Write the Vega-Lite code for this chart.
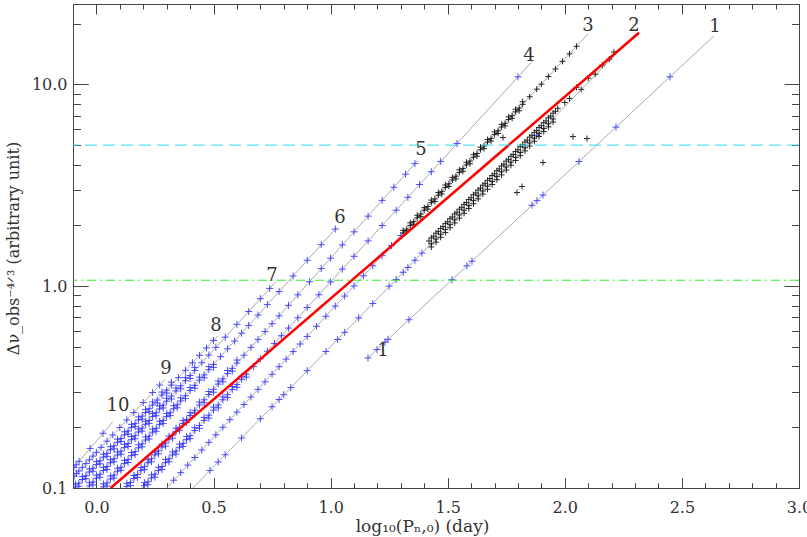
{
"$schema": "https://vega.github.io/schema/vega-lite/v6.json",
"width": 726, "height": 484,
"autosize": "none",
"padding": {"left": 73, "top": 4, "right": 8, "bottom": 49},
"background": "white",
"config": {"view": {"stroke": "#444", "strokeWidth": 1}, "font": "DejaVu Serif"},
"resolve": {"axis": {"x": "independent", "y": "independent"}},
"datasets": {
"curves": [
{"n":1,"x":1.1596,"y":0.441},{"n":1,"x":2.637,"y":17.38},
{"n":2,"x":0.4118,"y":0.1},{"n":2,"x":2.308,"y":18.05},
{"n":3,"x":0.2992,"y":0.1},{"n":3,"x":2.099,"y":17.78},
{"n":4,"x":0.1961,"y":0.1},{"n":4,"x":1.86,"y":12.97},
{"n":5,"x":0.1238,"y":0.1},{"n":5,"x":1.373,"y":4.207},
{"n":6,"x":0.0256,"y":0.1},{"n":6,"x":1.027,"y":1.958},
{"n":7,"x":-0.0386,"y":0.1},{"n":7,"x":0.767,"y":1.054},
{"n":8,"x":-0.0943,"y":0.1},{"n":8,"x":0.519,"y":0.568},
{"n":9,"x":-0.1,"y":0.113},{"n":9,"x":0.293,"y":0.3454},
{"n":10,"x":-0.1,"y":0.125},{"n":10,"x":0.07,"y":0.2128}
],
"labels": [
{"label":"10","x":0.092,"y":0.2538},{"label":"9","x":0.297,"y":0.387},{"label":"8","x":0.511,"y":0.632},
{"label":"7","x":0.75,"y":1.117},{"label":"6","x":1.04,"y":2.164},{"label":"5","x":1.386,"y":4.75},
{"label":"4","x":1.847,"y":13.87},{"label":"3","x":2.099,"y":19.53},{"label":"2","x":2.295,"y":19.53},
{"label":"1","x":2.641,"y":19.31},{"label":"1","x":1.224,"y":0.475}
],
"fit": [{"x":0.061,"y":0.1},{"x":2.317,"y":18.0}],
"levels_cyan": [{"y":5.0}],
"levels_green": [{"y":1.07}],
"blue": [
{"n":10,"x":-0.096,"y":0.1265},{"n":10,"x":-0.087,"y":0.1302},{"n":10,"x":-0.074,"y":0.1356},{"n":10,"x":-0.027,"y":0.1571},{"n":10,"x":0.028,"y":0.1866},
{"n":9,"x":-0.095,"y":0.1146},{"n":9,"x":-0.085,"y":0.1179},{"n":9,"x":-0.075,"y":0.1213},{"n":9,"x":-0.06,"y":0.1266},{"n":9,"x":-0.045,"y":0.1321},{"n":9,"x":-0.03,"y":0.1379},{"n":9,"x":-0.015,"y":0.1439},{"n":9,"x":0.0,"y":0.1502},{"n":9,"x":0.02,"y":0.159},{"n":9,"x":0.045,"y":0.1707},{"n":9,"x":0.07,"y":0.1832},{"n":9,"x":0.1,"y":0.1995},{"n":9,"x":0.13,"y":0.2173},{"n":9,"x":0.16,"y":0.2366},{"n":9,"x":0.2,"y":0.2652},{"n":9,"x":0.24,"y":0.2972},{"n":9,"x":0.27,"y":0.3235},
{"n":8,"x":-0.09,"y":0.1012},{"n":8,"x":-0.075,"y":0.1056},{"n":8,"x":-0.06,"y":0.1102},{"n":8,"x":-0.045,"y":0.115},{"n":8,"x":-0.03,"y":0.12},{"n":8,"x":-0.015,"y":0.1252},{"n":8,"x":0.0,"y":0.1306},{"n":8,"x":0.015,"y":0.1363},{"n":8,"x":0.03,"y":0.1422},{"n":8,"x":0.045,"y":0.1484},{"n":8,"x":0.06,"y":0.1548},{"n":8,"x":0.075,"y":0.1616},{"n":8,"x":0.09,"y":0.1686},{"n":8,"x":0.105,"y":0.1759},{"n":8,"x":0.12,"y":0.1835},{"n":8,"x":0.135,"y":0.1914},{"n":8,"x":0.15,"y":0.1997},{"n":8,"x":0.165,"y":0.2084},{"n":8,"x":0.18,"y":0.2175},{"n":8,"x":0.195,"y":0.2269},{"n":8,"x":0.21,"y":0.2367},{"n":8,"x":0.225,"y":0.247},{"n":8,"x":0.24,"y":0.2578},{"n":8,"x":0.26,"y":0.2728},{"n":8,"x":0.28,"y":0.2887},{"n":8,"x":0.3,"y":0.3055},{"n":8,"x":0.32,"y":0.3233},{"n":8,"x":0.35,"y":0.352},{"n":8,"x":0.38,"y":0.3832},{"n":8,"x":0.41,"y":0.4172},{"n":8,"x":0.44,"y":0.4542},{"n":8,"x":0.47,"y":0.4944},{"n":8,"x":0.5,"y":0.5383},
{"n":8,"x":-0.09,"y":0.1047},{"n":8,"x":-0.075,"y":0.1021},{"n":8,"x":-0.06,"y":0.1141},{"n":8,"x":-0.045,"y":0.1112},{"n":8,"x":-0.03,"y":0.1242},{"n":8,"x":-0.015,"y":0.1211},{"n":8,"x":0.0,"y":0.1352},{"n":8,"x":0.015,"y":0.1318},{"n":8,"x":0.03,"y":0.1472},{"n":8,"x":0.045,"y":0.1435},{"n":8,"x":0.06,"y":0.1602},{"n":8,"x":0.075,"y":0.1563},{"n":8,"x":0.09,"y":0.1745},{"n":8,"x":0.105,"y":0.1701},{"n":8,"x":0.12,"y":0.1899},{"n":8,"x":0.135,"y":0.1851},{"n":8,"x":0.15,"y":0.2067},{"n":8,"x":0.165,"y":0.2015},{"n":8,"x":0.18,"y":0.2251},{"n":8,"x":0.195,"y":0.2194},{"n":8,"x":0.21,"y":0.245},{"n":8,"x":0.225,"y":0.2388},{"n":8,"x":0.24,"y":0.2668},{"n":8,"x":0.26,"y":0.2638},{"n":8,"x":0.28,"y":0.2988},{"n":8,"x":0.3,"y":0.2954},{"n":8,"x":0.32,"y":0.3346},
{"n":7,"x":-0.03,"y":0.1025},{"n":7,"x":-0.015,"y":0.1071},{"n":7,"x":0.0,"y":0.1119},{"n":7,"x":0.015,"y":0.117},{"n":7,"x":0.03,"y":0.1222},{"n":7,"x":0.045,"y":0.1277},{"n":7,"x":0.06,"y":0.1334},{"n":7,"x":0.075,"y":0.1394},{"n":7,"x":0.09,"y":0.1457},{"n":7,"x":0.105,"y":0.1522},{"n":7,"x":0.12,"y":0.159},{"n":7,"x":0.135,"y":0.1661},{"n":7,"x":0.15,"y":0.1736},{"n":7,"x":0.165,"y":0.1814},{"n":7,"x":0.18,"y":0.1895},{"n":7,"x":0.195,"y":0.198},{"n":7,"x":0.21,"y":0.2069},{"n":7,"x":0.225,"y":0.2161},{"n":7,"x":0.24,"y":0.2258},{"n":7,"x":0.255,"y":0.2359},{"n":7,"x":0.27,"y":0.2465},{"n":7,"x":0.285,"y":0.2576},{"n":7,"x":0.3,"y":0.2692},{"n":7,"x":0.32,"y":0.2854},{"n":7,"x":0.34,"y":0.3026},{"n":7,"x":0.36,"y":0.3208},{"n":7,"x":0.38,"y":0.3401},{"n":7,"x":0.4,"y":0.3606},{"n":7,"x":0.42,"y":0.3823},{"n":7,"x":0.45,"y":0.4174},{"n":7,"x":0.48,"y":0.4557},{"n":7,"x":0.51,"y":0.4974},{"n":7,"x":0.55,"y":0.5592},{"n":7,"x":0.6,"y":0.6471},{"n":7,"x":0.65,"y":0.7489},{"n":7,"x":0.7,"y":0.867},{"n":7,"x":0.74,"y":0.9745},
{"n":7,"x":-0.03,"y":0.1061},{"n":7,"x":-0.015,"y":0.1036},{"n":7,"x":0.0,"y":0.1158},{"n":7,"x":0.015,"y":0.1131},{"n":7,"x":0.03,"y":0.1265},{"n":7,"x":0.045,"y":0.1235},{"n":7,"x":0.06,"y":0.1381},{"n":7,"x":0.075,"y":0.1348},{"n":7,"x":0.09,"y":0.1508},{"n":7,"x":0.105,"y":0.1472},{"n":7,"x":0.12,"y":0.1646},{"n":7,"x":0.135,"y":0.1606},{"n":7,"x":0.15,"y":0.1797},{"n":7,"x":0.165,"y":0.1754},{"n":7,"x":0.18,"y":0.1961},{"n":7,"x":0.195,"y":0.1915},{"n":7,"x":0.21,"y":0.2141},{"n":7,"x":0.225,"y":0.209},{"n":7,"x":0.24,"y":0.2337},{"n":7,"x":0.255,"y":0.2281},{"n":7,"x":0.27,"y":0.2551},{"n":7,"x":0.285,"y":0.2491},{"n":7,"x":0.3,"y":0.2786},{"n":7,"x":0.32,"y":0.276},{"n":7,"x":0.34,"y":0.3132},{"n":7,"x":0.36,"y":0.3102},{"n":7,"x":0.38,"y":0.352},{"n":7,"x":0.4,"y":0.3487},{"n":7,"x":0.42,"y":0.3957},
{"n":6,"x":0.03,"y":0.1013},{"n":6,"x":0.045,"y":0.1059},{"n":6,"x":0.06,"y":0.1108},{"n":6,"x":0.075,"y":0.1158},{"n":6,"x":0.09,"y":0.1211},{"n":6,"x":0.105,"y":0.1266},{"n":6,"x":0.12,"y":0.1324},{"n":6,"x":0.135,"y":0.1384},{"n":6,"x":0.15,"y":0.1447},{"n":6,"x":0.165,"y":0.1513},{"n":6,"x":0.18,"y":0.1582},{"n":6,"x":0.195,"y":0.1654},{"n":6,"x":0.21,"y":0.1729},{"n":6,"x":0.225,"y":0.1808},{"n":6,"x":0.24,"y":0.1891},{"n":6,"x":0.255,"y":0.1976},{"n":6,"x":0.27,"y":0.2067},{"n":6,"x":0.285,"y":0.2161},{"n":6,"x":0.3,"y":0.2259},{"n":6,"x":0.315,"y":0.2362},{"n":6,"x":0.33,"y":0.247},{"n":6,"x":0.345,"y":0.2582},{"n":6,"x":0.36,"y":0.2701},{"n":6,"x":0.38,"y":0.2866},{"n":6,"x":0.4,"y":0.3041},{"n":6,"x":0.42,"y":0.3227},{"n":6,"x":0.44,"y":0.3424},{"n":6,"x":0.46,"y":0.3634},{"n":6,"x":0.48,"y":0.3857},{"n":6,"x":0.5,"y":0.4093},{"n":6,"x":0.53,"y":0.4474},{"n":6,"x":0.56,"y":0.4891},{"n":6,"x":0.59,"y":0.5347},{"n":6,"x":0.62,"y":0.5845},{"n":6,"x":0.65,"y":0.639},{"n":6,"x":0.69,"y":0.7196},{"n":6,"x":0.73,"y":0.8104},{"n":6,"x":0.78,"y":0.9402},{"n":6,"x":0.84,"y":1.1235},{"n":6,"x":0.9,"y":1.343},{"n":6,"x":0.96,"y":1.605},{"n":6,"x":1.02,"y":1.918},
{"n":6,"x":0.03,"y":0.1048},{"n":6,"x":0.045,"y":0.1024},{"n":6,"x":0.06,"y":0.1147},{"n":6,"x":0.075,"y":0.112},{"n":6,"x":0.09,"y":0.1253},{"n":6,"x":0.105,"y":0.1224},{"n":6,"x":0.12,"y":0.137},{"n":6,"x":0.135,"y":0.1338},{"n":6,"x":0.15,"y":0.1498},{"n":6,"x":0.165,"y":0.1463},{"n":6,"x":0.18,"y":0.1637},{"n":6,"x":0.195,"y":0.1599},{"n":6,"x":0.21,"y":0.179},{"n":6,"x":0.225,"y":0.1748},{"n":6,"x":0.24,"y":0.1957},{"n":6,"x":0.255,"y":0.1911},{"n":6,"x":0.27,"y":0.2139},{"n":6,"x":0.285,"y":0.209},{"n":6,"x":0.3,"y":0.2338},{"n":6,"x":0.315,"y":0.2284},{"n":6,"x":0.33,"y":0.2556},{"n":6,"x":0.345,"y":0.2497},{"n":6,"x":0.36,"y":0.2796},{"n":6,"x":0.38,"y":0.2771},{"n":6,"x":0.4,"y":0.3147},{"n":6,"x":0.42,"y":0.3121},{"n":6,"x":0.44,"y":0.3544},{"n":6,"x":0.46,"y":0.3514},{"n":6,"x":0.48,"y":0.3992},{"n":6,"x":0.5,"y":0.3958},
{"n":5,"x":0.13,"y":0.1019},{"n":5,"x":0.145,"y":0.1065},{"n":5,"x":0.16,"y":0.1114},{"n":5,"x":0.175,"y":0.1166},{"n":5,"x":0.19,"y":0.1219},{"n":5,"x":0.205,"y":0.1275},{"n":5,"x":0.22,"y":0.1334},{"n":5,"x":0.235,"y":0.1395},{"n":5,"x":0.25,"y":0.1459},{"n":5,"x":0.265,"y":0.1526},{"n":5,"x":0.28,"y":0.1596},{"n":5,"x":0.295,"y":0.1669},{"n":5,"x":0.31,"y":0.1746},{"n":5,"x":0.325,"y":0.1826},{"n":5,"x":0.34,"y":0.191},{"n":5,"x":0.355,"y":0.1997},{"n":5,"x":0.37,"y":0.2089},{"n":5,"x":0.385,"y":0.2185},{"n":5,"x":0.4,"y":0.2286},{"n":5,"x":0.42,"y":0.2427},{"n":5,"x":0.44,"y":0.2576},{"n":5,"x":0.46,"y":0.2735},{"n":5,"x":0.48,"y":0.2904},{"n":5,"x":0.5,"y":0.3083},{"n":5,"x":0.52,"y":0.3273},{"n":5,"x":0.54,"y":0.3475},{"n":5,"x":0.56,"y":0.369},{"n":5,"x":0.58,"y":0.3917},{"n":5,"x":0.6,"y":0.4159},{"n":5,"x":0.63,"y":0.455},{"n":5,"x":0.66,"y":0.4977},{"n":5,"x":0.69,"y":0.5445},{"n":5,"x":0.72,"y":0.5957},{"n":5,"x":0.75,"y":0.6516},{"n":5,"x":0.78,"y":0.7129},{"n":5,"x":0.82,"y":0.8035},{"n":5,"x":0.86,"y":0.9057},{"n":5,"x":0.91,"y":1.052},{"n":5,"x":0.96,"y":1.222},{"n":5,"x":1.0,"y":1.377},{"n":5,"x":1.05,"y":1.6},{"n":5,"x":1.1,"y":1.858},{"n":5,"x":1.16,"y":2.223},{"n":5,"x":1.22,"y":2.661},{"n":5,"x":1.27,"y":3.09},{"n":5,"x":1.32,"y":3.589},{"n":5,"x":1.36,"y":4.046},
{"n":5,"x":0.13,"y":0.1055},{"n":5,"x":0.145,"y":0.103},{"n":5,"x":0.16,"y":0.1153},{"n":5,"x":0.175,"y":0.1128},{"n":5,"x":0.19,"y":0.1262},{"n":5,"x":0.205,"y":0.1233},{"n":5,"x":0.22,"y":0.1381},{"n":5,"x":0.235,"y":0.1349},{"n":5,"x":0.25,"y":0.151},{"n":5,"x":0.265,"y":0.1476},{"n":5,"x":0.28,"y":0.1652},{"n":5,"x":0.295,"y":0.1614},{"n":5,"x":0.31,"y":0.1807},{"n":5,"x":0.325,"y":0.1766},{"n":5,"x":0.34,"y":0.1977},{"n":5,"x":0.355,"y":0.1931},{"n":5,"x":0.37,"y":0.2162},{"n":5,"x":0.385,"y":0.2113},{"n":5,"x":0.4,"y":0.2366},{"n":5,"x":0.42,"y":0.2347},{"n":5,"x":0.44,"y":0.2666},{"n":5,"x":0.46,"y":0.2645},{"n":5,"x":0.48,"y":0.3006},{"n":5,"x":0.5,"y":0.2981},{"n":5,"x":0.52,"y":0.3388},{"n":5,"x":0.54,"y":0.336},{"n":5,"x":0.56,"y":0.3819},{"n":5,"x":0.58,"y":0.3788},{"n":5,"x":0.6,"y":0.4305},
{"n":4,"x":0.205,"y":0.1027},{"n":4,"x":0.22,"y":0.1073},{"n":4,"x":0.235,"y":0.1121},{"n":4,"x":0.25,"y":0.1171},{"n":4,"x":0.265,"y":0.1223},{"n":4,"x":0.28,"y":0.1278},{"n":4,"x":0.295,"y":0.1335},{"n":4,"x":0.31,"y":0.1395},{"n":4,"x":0.325,"y":0.1458},{"n":4,"x":0.34,"y":0.1523},{"n":4,"x":0.355,"y":0.1591},{"n":4,"x":0.37,"y":0.1663},{"n":4,"x":0.385,"y":0.1737},{"n":4,"x":0.4,"y":0.1816},{"n":4,"x":0.42,"y":0.1924},{"n":4,"x":0.44,"y":0.2041},{"n":4,"x":0.46,"y":0.2163},{"n":4,"x":0.48,"y":0.2294},{"n":4,"x":0.5,"y":0.2432},{"n":4,"x":0.52,"y":0.2579},{"n":4,"x":0.54,"y":0.2734},{"n":4,"x":0.56,"y":0.2899},{"n":4,"x":0.58,"y":0.3074},{"n":4,"x":0.6,"y":0.3258},{"n":4,"x":0.62,"y":0.3455},{"n":4,"x":0.64,"y":0.3663},{"n":4,"x":0.67,"y":0.3999},{"n":4,"x":0.7,"y":0.4365},{"n":4,"x":0.73,"y":0.4765},{"n":4,"x":0.76,"y":0.5202},{"n":4,"x":0.79,"y":0.568},{"n":4,"x":0.82,"y":0.62},{"n":4,"x":0.86,"y":0.6969},{"n":4,"x":0.9,"y":0.7834},{"n":4,"x":0.95,"y":0.9068},{"n":4,"x":1.0,"y":1.05},{"n":4,"x":1.05,"y":1.215},{"n":4,"x":1.1,"y":1.406},{"n":4,"x":1.16,"y":1.676},{"n":4,"x":1.22,"y":1.997},{"n":4,"x":1.28,"y":2.38},{"n":4,"x":1.33,"y":2.755},{"n":4,"x":1.38,"y":3.188},{"n":4,"x":1.43,"y":3.691},{"n":4,"x":1.47,"y":4.149},{"n":4,"x":1.54,"y":5.09},{"n":4,"x":1.8,"y":10.89},
{"n":4,"x":0.205,"y":0.1063},{"n":4,"x":0.22,"y":0.1038},{"n":4,"x":0.235,"y":0.116},{"n":4,"x":0.25,"y":0.1132},{"n":4,"x":0.265,"y":0.1266},{"n":4,"x":0.28,"y":0.1236},{"n":4,"x":0.295,"y":0.1382},{"n":4,"x":0.31,"y":0.1349},{"n":4,"x":0.325,"y":0.1509},{"n":4,"x":0.34,"y":0.1473},{"n":4,"x":0.355,"y":0.1647},{"n":4,"x":0.37,"y":0.1608},{"n":4,"x":0.385,"y":0.1798},{"n":4,"x":0.4,"y":0.1756},{"n":4,"x":0.42,"y":0.1991},{"n":4,"x":0.44,"y":0.1974},{"n":4,"x":0.46,"y":0.2239},{"n":4,"x":0.48,"y":0.2218},{"n":4,"x":0.5,"y":0.2517},{"n":4,"x":0.52,"y":0.2494},{"n":4,"x":0.54,"y":0.283},{"n":4,"x":0.56,"y":0.2803},{"n":4,"x":0.58,"y":0.3182},{"n":4,"x":0.6,"y":0.315},{"n":4,"x":0.62,"y":0.3576},{"n":4,"x":0.64,"y":0.3542},
{"n":3,"x":0.33,"y":0.1093},{"n":3,"x":0.36,"y":0.1191},{"n":3,"x":0.39,"y":0.1299},{"n":3,"x":0.42,"y":0.1416},{"n":3,"x":0.45,"y":0.1543},{"n":3,"x":0.48,"y":0.1683},{"n":3,"x":0.51,"y":0.1834},{"n":3,"x":0.54,"y":0.2},{"n":3,"x":0.57,"y":0.218},{"n":3,"x":0.6,"y":0.2377},{"n":3,"x":0.63,"y":0.2592},{"n":3,"x":0.66,"y":0.2825},{"n":3,"x":0.69,"y":0.308},{"n":3,"x":0.72,"y":0.3357},{"n":3,"x":0.75,"y":0.366},{"n":3,"x":0.78,"y":0.399},{"n":3,"x":0.81,"y":0.4351},{"n":3,"x":0.84,"y":0.4742},{"n":3,"x":0.87,"y":0.517},{"n":3,"x":0.9,"y":0.5636},{"n":3,"x":0.94,"y":0.6324},{"n":3,"x":0.98,"y":0.7096},{"n":3,"x":1.02,"y":0.7962},{"n":3,"x":1.06,"y":0.8933},{"n":3,"x":1.1,"y":1.002},{"n":3,"x":1.14,"y":1.125},{"n":3,"x":1.18,"y":1.262},{"n":3,"x":1.22,"y":1.416},{"n":3,"x":1.26,"y":1.589},{"n":3,"x":1.3,"y":1.782},
{"n":2,"x":0.485,"y":0.1222},{"n":2,"x":0.52,"y":0.1345},{"n":2,"x":0.55,"y":0.1461},{"n":2,"x":0.62,"y":0.177},{"n":2,"x":0.7,"y":0.2203},{"n":2,"x":0.75,"y":0.2526},{"n":2,"x":0.78,"y":0.2743},{"n":2,"x":0.8,"y":0.2897},{"n":2,"x":0.83,"y":0.3145},{"n":2,"x":0.9,"y":0.3811},{"n":2,"x":0.98,"y":0.4745},{"n":2,"x":1.03,"y":0.5442},{"n":2,"x":1.06,"y":0.5906},{"n":2,"x":1.12,"y":0.6965},{"n":2,"x":1.18,"y":0.8208},{"n":2,"x":1.25,"y":1.0},{"n":2,"x":1.28,"y":1.079},{"n":2,"x":1.31,"y":1.172},{"n":2,"x":1.33,"y":1.238},{"n":2,"x":1.36,"y":1.344},{"n":2,"x":1.39,"y":1.459},{"n":2,"x":1.88,"y":5.588},
{"n":1,"x":1.1596,"y":0.441},{"n":1,"x":1.198,"y":0.4851},{"n":1,"x":1.2322,"y":0.5281},{"n":1,"x":1.245,"y":0.5451},{"n":1,"x":1.3347,"y":0.6818},{"n":1,"x":1.5183,"y":1.076},{"n":1,"x":1.5823,"y":1.261},{"n":1,"x":1.6037,"y":1.33},{"n":1,"x":1.8599,"y":2.516},{"n":1,"x":1.8813,"y":2.653},{"n":1,"x":1.9068,"y":2.827},{"n":1,"x":2.0605,"y":4.143},{"n":1,"x":2.2185,"y":6.138},{"n":1,"x":2.4491,"y":10.89}
],
"black": [
{"x":1.31,"y":1.834},{"x":1.325,"y":1.916},{"x":1.34,"y":2.0},{"x":1.355,"y":2.088},{"x":1.37,"y":2.18},{"x":1.385,"y":2.277},{"x":1.4,"y":2.377},{"x":1.415,"y":2.482},{"x":1.43,"y":2.592},{"x":1.445,"y":2.706},{"x":1.46,"y":2.825},{"x":1.475,"y":2.95},{"x":1.49,"y":3.08},{"x":1.505,"y":3.216},{"x":1.52,"y":3.357},{"x":1.535,"y":3.506},{"x":1.55,"y":3.66},{"x":1.565,"y":3.822},{"x":1.58,"y":3.99},{"x":1.595,"y":4.167},{"x":1.61,"y":4.351},{"x":1.625,"y":4.543},{"x":1.64,"y":4.742},{"x":1.655,"y":4.952},{"x":1.67,"y":5.17},{"x":1.685,"y":5.398},{"x":1.7,"y":5.636},{"x":1.715,"y":5.885},{"x":1.73,"y":6.144},{"x":1.745,"y":6.416},{"x":1.76,"y":6.699},{"x":1.775,"y":6.995},{"x":1.79,"y":7.303},{"x":1.805,"y":7.626},{"x":1.82,"y":7.962},{"x":1.85,"y":8.68},{"x":1.88,"y":9.462},{"x":1.9,"y":10.02},{"x":1.93,"y":10.93},{"x":1.96,"y":11.91},{"x":1.99,"y":12.99},{"x":2.02,"y":14.16},{"x":2.05,"y":15.43},
{"x":1.31,"y":1.889},{"x":1.325,"y":1.859},{"x":1.34,"y":2.06},{"x":1.355,"y":2.025},{"x":1.37,"y":2.245},{"x":1.385,"y":2.209},{"x":1.4,"y":2.448},{"x":1.415,"y":2.408},{"x":1.43,"y":2.67},{"x":1.445,"y":2.625},{"x":1.46,"y":2.91},{"x":1.475,"y":2.862},{"x":1.49,"y":3.172},{"x":1.505,"y":3.12},{"x":1.52,"y":3.458},{"x":1.535,"y":3.401},{"x":1.55,"y":3.77},{"x":1.565,"y":3.707},{"x":1.58,"y":4.11},{"x":1.595,"y":4.042},{"x":1.61,"y":4.482},{"x":1.625,"y":4.407},{"x":1.64,"y":4.884},{"x":1.655,"y":4.803},{"x":1.67,"y":5.325},{"x":1.685,"y":5.236},{"x":1.7,"y":5.805},{"x":1.715,"y":5.708},{"x":1.73,"y":6.328},{"x":1.745,"y":6.224},{"x":1.76,"y":6.9},{"x":1.775,"y":6.785},{"x":1.79,"y":7.522},{"x":1.805,"y":7.397},{"x":1.82,"y":8.201},
{"x":1.42,"y":1.674},{"x":1.44,"y":1.768},{"x":1.46,"y":1.868},{"x":1.48,"y":1.973},{"x":1.5,"y":2.084},{"x":1.52,"y":2.202},{"x":1.54,"y":2.326},{"x":1.56,"y":2.457},{"x":1.58,"y":2.596},{"x":1.6,"y":2.742},{"x":1.62,"y":2.896},{"x":1.64,"y":3.059},{"x":1.66,"y":3.232},{"x":1.68,"y":3.414},{"x":1.7,"y":3.606},{"x":1.72,"y":3.809},{"x":1.74,"y":4.024},{"x":1.76,"y":4.25},{"x":1.78,"y":4.49},{"x":1.8,"y":4.742},{"x":1.82,"y":5.009},{"x":1.84,"y":5.291},{"x":1.86,"y":5.59},{"x":1.88,"y":5.905},{"x":1.9,"y":6.237},{"x":1.92,"y":6.588},{"x":1.94,"y":6.959},{"x":1.96,"y":7.352},
{"x":1.43,"y":1.733},{"x":1.45,"y":1.83},{"x":1.47,"y":1.933},{"x":1.49,"y":2.042},{"x":1.51,"y":2.157},{"x":1.53,"y":2.279},{"x":1.55,"y":2.407},{"x":1.57,"y":2.543},{"x":1.59,"y":2.687},{"x":1.61,"y":2.838},{"x":1.63,"y":2.997},{"x":1.65,"y":3.166},{"x":1.67,"y":3.345},{"x":1.69,"y":3.533},{"x":1.71,"y":3.732},{"x":1.73,"y":3.942},{"x":1.75,"y":4.165},{"x":1.77,"y":4.399},{"x":1.79,"y":4.647},{"x":1.81,"y":4.908},{"x":1.83,"y":5.184},{"x":1.85,"y":5.476},{"x":1.87,"y":5.786},{"x":1.89,"y":6.112},{"x":1.91,"y":6.455},{"x":1.93,"y":6.819},{"x":1.95,"y":7.203},{"x":1.97,"y":7.609},
{"x":1.43,"y":1.621},{"x":1.45,"y":1.712},{"x":1.47,"y":1.809},{"x":1.49,"y":1.91},{"x":1.51,"y":2.018},{"x":1.53,"y":2.132},{"x":1.55,"y":2.252},{"x":1.57,"y":2.379},{"x":1.59,"y":2.513},{"x":1.61,"y":2.654},{"x":1.63,"y":2.804},{"x":1.65,"y":2.962},{"x":1.67,"y":3.128},{"x":1.69,"y":3.305},{"x":1.71,"y":3.491},{"x":1.73,"y":3.688},{"x":1.75,"y":3.895},{"x":1.77,"y":4.115},{"x":1.79,"y":4.346},{"x":1.81,"y":4.591},{"x":1.83,"y":4.85},{"x":1.85,"y":5.123},{"x":1.87,"y":5.411},{"x":1.89,"y":5.716},{"x":1.91,"y":6.038},{"x":1.93,"y":6.378},{"x":1.95,"y":6.737},
{"x":1.43,"y":1.564},{"x":1.45,"y":1.652},{"x":1.47,"y":1.746},{"x":1.49,"y":1.843},{"x":1.51,"y":1.947},{"x":1.53,"y":2.057},{"x":1.55,"y":2.173},{"x":1.57,"y":2.296},{"x":1.59,"y":2.425},{"x":1.61,"y":2.561},{"x":1.63,"y":2.706},{"x":1.65,"y":2.858},{"x":1.67,"y":3.019},{"x":1.69,"y":3.189},{"x":1.71,"y":3.369},{"x":1.73,"y":3.559},{"x":1.75,"y":3.759},{"x":1.77,"y":3.971},{"x":1.79,"y":4.194},{"x":1.81,"y":4.43},{"x":1.83,"y":4.68},{"x":1.85,"y":4.944},{"x":1.87,"y":5.222},{"x":1.89,"y":5.516},{"x":1.91,"y":5.827},{"x":1.93,"y":6.155},{"x":1.95,"y":6.501},
{"x":2.0,"y":8.128},{"x":2.02,"y":8.511},{"x":2.05,"y":9.661},{"x":2.07,"y":9.441},{"x":2.1,"y":10.72},{"x":2.13,"y":11.22},{"x":2.16,"y":12.45},{"x":2.19,"y":13.34},{"x":2.21,"y":14.45},
{"x":1.9068,"y":4.097},{"x":2.0349,"y":5.51},{"x":2.0947,"y":5.386},{"x":1.8172,"y":3.116},{"x":1.7958,"y":2.91},{"x":1.7361,"y":5.447}
]
},
"layer": [
{
"data": {"name": "curves"},
"mark": {"type": "line", "color": "#aaaaaa", "strokeWidth": 1, "clip": true},
"encoding": {
"x": {"field": "x", "type": "quantitative", "scale": {"type": "linear", "domain": [-0.1, 3.0], "nice": false, "zero": false},
"axis": {"orient": "bottom", "values": [0,0.1,0.2,0.3,0.4,0.5,0.6,0.7,0.8,0.9,1,1.1,1.2,1.3,1.4,1.5,1.6,1.7,1.8,1.9,2,2.1,2.2,2.3,2.4,2.5,2.6,2.7,2.8,2.9,3],
"labelExpr": "abs(datum.value*2 - round(datum.value*2)) < 0.001 ? format(datum.value, '.1f') : ''",
"ticks": true, "tickSize": -10, "tickColor": "#444", "tickWidth": 1, "domain": false,
"tickDash": {"condition": {"test": "abs(datum.value*2 - round(datum.value*2)) < 0.001", "value": [10, 100]}, "value": [5, 100]},
"grid": true, "gridColor": "#444", "gridWidth": 1, "gridOpacity": 1,
"gridDash": {"condition": {"test": "abs(datum.value*2 - round(datum.value*2)) < 0.001", "value": [10, 464, 10, 2000]}, "value": [5, 474, 5, 2000]},
"labelFont": "DejaVu Serif", "labelFontSize": 16, "labelColor": "#333", "labelPadding": 21, "labelFlush": false, "labelOverlap": false, "labelBound": false,
"title": "log₁₀(Pₙ,₀) (day)", "titleFont": "DejaVu Serif", "titleFontSize": 17, "titleFontWeight": "normal", "titleColor": "#333", "titleX": 349, "titleY": 38, "titleBaseline": "middle", "titleAlign": "center"}},
"y": {"field": "y", "type": "quantitative", "scale": {"type": "log", "domain": [0.1, 25], "nice": false},
"axis": {"orient": "left", "values": [0.1,0.2,0.3,0.4,0.5,0.6,0.7,0.8,0.9,1,2,3,4,5,6,7,8,9,10,20],
"labelExpr": "abs(log(datum.value)/LN10 - round(log(datum.value)/LN10)) < 0.001 ? format(datum.value, '.1f') : ''",
"ticks": true, "tickSize": -15, "tickColor": "#444", "tickWidth": 1, "domain": false,
"tickDash": {"condition": {"test": "abs(log(datum.value)/LN10 - round(log(datum.value)/LN10)) < 0.001", "value": [15, 100]}, "value": [7.5, 100]},
"grid": true, "gridColor": "#444", "gridWidth": 1, "gridOpacity": 1,
"gridDash": {"condition": {"test": "abs(log(datum.value)/LN10 - round(log(datum.value)/LN10)) < 0.001", "value": [15, 696, 15, 2000]}, "value": [7.5, 711, 7.5, 2000]},
"labelFont": "DejaVu Serif", "labelFontSize": 16, "labelColor": "#333", "labelPadding": 21, "labelFlush": false, "labelOverlap": false, "labelBound": false,
"title": "Δν_obs⁻⁴ᐟ³ (arbitrary unit)", "titleFont": "DejaVu Serif", "titleFontSize": 16, "titleFontWeight": "normal", "titleColor": "#333", "titleX": -60, "titleY": 244, "titleAngle": -90, "titleBaseline": "middle", "titleAlign": "center"}},
"detail": {"field": "n", "type": "nominal"}
}
},
{
"data": {"name": "blue"},
"mark": {"type": "point", "shape": "M-1,0L1,0M0,-1L0,1", "filled": false, "size": 49, "strokeWidth": 1, "color": "#2f2fff", "opacity": 0.85, "clip": true},
"encoding": {
"x": {"field": "x", "type": "quantitative", "axis": null},
"y": {"field": "y", "type": "quantitative", "axis": null}
}
},
{
"data": {"name": "black"},
"mark": {"type": "point", "shape": "M-1,0L1,0M0,-1L0,1", "filled": false, "size": 36, "strokeWidth": 1, "color": "#111111", "opacity": 0.9, "clip": true},
"encoding": {
"x": {"field": "x", "type": "quantitative", "axis": null},
"y": {"field": "y", "type": "quantitative", "axis": null}
}
},
{
"data": {"name": "fit"},
"mark": {"type": "line", "color": "#ff0000", "strokeWidth": 2.5, "clip": true},
"encoding": {
"x": {"field": "x", "type": "quantitative", "axis": null},
"y": {"field": "y", "type": "quantitative", "axis": null}
}
},
{
"data": {"name": "levels_cyan"},
"mark": {"type": "rule", "color": "#2fd8e8", "strokeWidth": 1, "strokeDash": [12, 6]},
"encoding": {
"y": {"field": "y", "type": "quantitative", "axis": null}
}
},
{
"data": {"name": "levels_green"},
"mark": {"type": "rule", "color": "#33ee33", "strokeWidth": 1, "strokeDash": [9, 4, 2, 4]},
"encoding": {
"y": {"field": "y", "type": "quantitative", "axis": null}
}
},
{
"data": {"name": "labels"},
"mark": {"type": "text", "font": "DejaVu Serif", "fontSize": 18, "color": "#333", "align": "center", "baseline": "middle"},
"encoding": {
"x": {"field": "x", "type": "quantitative", "axis": null},
"y": {"field": "y", "type": "quantitative", "axis": null},
"text": {"field": "label", "type": "nominal"}
}
}
]
}
